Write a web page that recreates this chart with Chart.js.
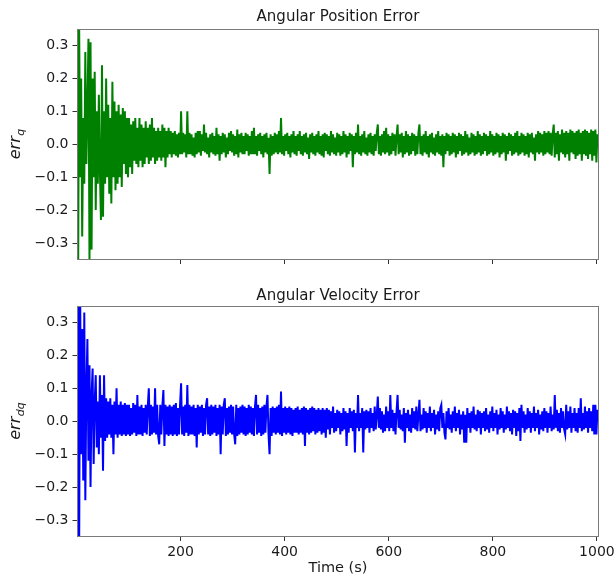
<!DOCTYPE html>
<html>
<head>
<meta charset="utf-8">
<script src="https://cdn.jsdelivr.net/npm/chart.js@4"></script>
<style>
html,body{margin:0;padding:0;background:#fff;}
#wrap{position:relative;width:614px;height:580px;}
canvas{position:absolute;left:0;}
</style>
</head>
<body>
<div id="wrap">
<canvas id="c1" width="614" height="280" style="top:0"></canvas>
<canvas id="c2" width="614" height="300" style="top:280px"></canvas>
</div>
<script>
// ---- Data ----
const timeStart = 1;      // first sample time (s)
const timeStep = 2;       // sample spacing (s)
const xTicks = [200, 400, 600, 800, 1000];
const yTicks = [-0.3, -0.2, -0.1, 0, 0.1, 0.2, 0.3];
const titles = ['Angular Position Error', 'Angular Velocity Error'];
const yLabels = [['err', 'q'], ['err', 'dq']];
const xLabel = 'Time (s)';

// Angular position error (green), one row = 20 s
const posErr = [
  .5,-.5,.4,-.1,.2,-.28,.08,-.12,.28,-.06,
  .1,.32,-.36,.31,-.32,.2,-.1,.22,-.2,.1,
  -.12,.15,-.08,-.23,.24,-.22,.1,-.12,.2,-.1,
  .12,-.15,.08,-.18,.19,-.1,.13,-.14,.1,-.12,
  .12,-.1,.09,-.13,.11,-.06,.1,-.09,.08,-.1,
  .08,-.07,.06,-.09,.07,-.05,.08,-.06,.05,-.07,
  .08,-.05,.06,-.07,.05,-.06,.07,-.04,.05,-.06,
  .06,-.05,.08,-.04,.05,-.06,.04,-.05,.05,-.04,
  .04,-.05,.06,-.04,.05,-.07,.04,-.04,.05,-.03,
  .04,-.04,.035,-.03,.04,-.035,.03,-.04,.035,-.03,
  .1,-.03,.035,-.025,.03,-.04,.1,-.03,.035,-.03,
  .03,-.035,.02,-.04,.035,-.03,.04,-.025,.04,-.035,
  .03,-.02,.06,-.025,.035,-.03,.02,-.04,.03,-.025,
  .035,-.03,.025,-.035,.05,-.03,.03,-.05,.025,-.03,
  .035,-.025,.03,-.04,.02,-.03,.035,-.02,.04,-.025,
  .03,-.035,.025,-.03,.045,-.04,.03,-.025,.035,-.03,
  .025,-.03,.035,-.02,.03,-.035,.025,-.03,.04,-.03,
  .05,-.03,.025,-.035,.03,-.02,.035,-.03,.025,-.04,
  .03,-.025,.035,-.03,.02,-.09,.03,-.035,.025,-.03,
  .035,-.025,.03,-.03,.04,-.025,.08,-.03,.025,-.035,
  .03,-.02,.035,-.03,.025,-.04,.03,-.025,.04,-.03,
  .025,-.035,.03,-.02,.04,-.03,.025,-.035,.03,-.025,
  .035,-.03,.02,-.045,.03,-.025,.035,-.03,.025,-.035,
  .03,-.025,.04,-.03,.025,-.035,.03,-.04,.035,-.02,
  .03,-.03,.025,-.035,.04,-.025,.03,-.03,.02,-.035,
  .035,-.025,.03,-.035,.025,-.03,.04,-.025,.03,-.04,
  .025,-.03,.035,-.02,.03,-.07,.025,-.03,.035,-.025,
  .06,-.03,.025,-.035,.03,-.025,.04,-.03,.02,-.035,
  .03,-.025,.035,-.03,.025,-.035,.03,-.02,.035,.06,
  -.03,.025,-.035,.03,-.025,.04,-.03,.05,-.025,.03,
  -.035,.025,-.03,.035,-.02,.03,-.035,.025,.06,-.03,
  .03,-.025,.035,-.04,.025,-.03,.04,-.025,.03,-.035,
  .025,-.03,.035,-.02,.03,-.035,.025,-.03,.035,.06,
  -.03,.025,-.035,.03,-.025,.04,-.03,.025,-.04,.03,
  -.025,.035,-.03,.02,-.035,.03,-.025,.04,-.03,.025,
  -.035,.03,-.07,.025,-.03,.035,-.02,.03,-.035,.025,
  -.03,.035,-.025,.03,-.04,.025,-.03,.035,-.02,.03,
  -.035,.025,-.03,.04,-.025,.03,-.035,.02,-.03,.035,
  -.025,.03,-.035,.025,-.03,.04,-.025,.03,-.035,.025,
  -.03,.035,-.02,.03,-.035,.025,-.03,.04,-.025,.03,
  -.035,.025,-.03,.035,-.025,.03,-.04,.025,-.03,.035,
  -.025,.03,-.05,.025,-.03,.035,-.02,.03,-.035,.025,
  -.03,.035,-.025,.04,-.035,.025,-.03,.035,-.025,.03,
  -.035,.025,-.03,.035,-.04,.03,-.025,.035,-.03,.02,
  -.05,.03,-.025,.04,-.03,.035,-.025,.03,-.035,.04,
  -.03,.035,-.025,.04,-.03,.035,-.035,.03,.06,-.04,
  .035,-.03,.04,-.05,.03,-.025,.045,-.03,.035,-.04,
  .04,-.03,.035,-.05,.045,-.025,.04,-.03,.035,-.045,
  .04,-.035,.045,-.03,.035,-.05,.04,-.03,.045,-.035,
  .04,-.045,.035,-.03,.045,-.05,.04,-.035,.045,-.055,
  .03,0
];

// Angular velocity error (blue), one row = 20 s
const velErr = [
  -.5,.5,-.45,.4,-.1,.28,-.18,.33,-.24,.1,
  .25,-.12,.17,-.2,.08,.16,-.13,.06,.14,-.08,
  .06,-.1,.14,-.05,.08,-.15,.14,-.06,.07,-.05,
  .06,-.04,.07,-.05,.05,-.1,.06,-.04,.1,-.05,
  .05,-.04,.06,-.045,.05,-.04,.055,-.045,.05,-.04,
  .05,-.045,.04,-.04,.055,-.035,.05,-.045,.08,-.04,
  .045,-.04,.05,-.045,.04,-.035,.05,-.04,.045,.1,
  -.045,.05,-.04,.045,-.035,.1,-.04,.05,-.045,-.07,
  .05,-.04,.045,.095,-.075,.05,-.04,.045,-.045,.05,
  -.04,.045,-.045,.05,-.04,.055,-.045,.04,-.04,.05,
  .115,-.04,.045,-.045,.05,-.035,.11,-.045,.05,-.04,
  .045,-.04,.05,-.045,.04,-.08,.05,-.04,.045,-.035,
  .05,-.045,.04,-.04,.05,.07,-.04,.045,-.045,.05,
  -.04,.045,-.035,.05,-.045,.04,-.04,.05,-.1,.045,
  -.04,.05,.07,-.045,.04,-.04,.045,-.035,.05,-.04,
  .045,-.04,-.07,.05,-.045,.04,-.04,.045,-.035,.05,
  -.04,.045,-.045,.04,-.04,.05,-.035,.045,-.04,.04,
  -.045,.045,.08,-.04,.05,-.035,.04,-.045,.045,-.04,
  .05,-.035,.045,.08,-.04,-.1,.04,-.045,.045,-.035,
  .04,-.04,.045,-.035,.05,-.04,.09,-.045,.04,-.035,
  .045,-.04,.04,-.035,.045,-.04,.04,-.045,.035,-.035,
  .04,-.035,.045,-.04,.035,-.035,.04,-.04,.045,-.075,
  .04,-.035,.035,-.04,.04,-.035,.045,-.03,.04,-.04,
  .035,-.035,.04,-.03,.035,-.04,.04,-.035,.035,-.05,
  .04,-.025,.035,-.04,.03,-.02,.045,-.035,.025,-.03,
  .035,-.02,.03,-.04,.025,-.03,.04,-.025,.03,-.075,
  .025,-.035,.04,-.02,.03,-.03,.035,-.095,.025,-.02,
  .08,-.03,.025,-.02,.04,-.095,.03,-.025,.035,-.02,
  .03,-.035,.04,-.02,.025,-.03,.045,-.025,.02,.075,
  -.02,.04,-.025,.03,-.035,.02,-.03,.045,-.02,.03,
  -.03,.08,-.02,.035,-.03,.025,-.04,.03,.08,-.02,
  .035,-.025,.02,-.03,.04,-.065,.025,-.02,.035,-.03,
  .02,-.035,.04,-.02,.03,-.025,.045,-.03,.02,.065,
  -.03,.02,-.025,.04,-.02,.03,-.035,.025,-.02,.045,
  -.03,.025,-.02,.035,-.04,.02,-.025,.03,-.03,.04,
  .05,-.02,.025,-.035,-.055,.03,-.02,.04,-.025,.02,
  -.035,.03,-.02,.045,-.03,.025,-.02,.035,-.04,.02,
  -.025,.03,-.065,.02,-.065,.04,-.02,.025,-.035,.03,
  -.02,.045,-.025,.02,-.03,.035,-.02,.03,-.04,.025,
  -.02,.03,-.03,.04,-.025,.02,-.035,.03,-.02,.045,
  -.03,.025,-.02,.035,-.04,.02,-.025,.04,-.02,.03,
  -.035,.02,-.025,.045,-.02,.03,-.03,.025,-.04,.035,
  -.02,.03,-.045,.025,-.03,.04,-.06,.05,-.02,.03,
  -.035,.02,-.025,.04,-.02,.03,-.035,.025,-.02,.045,
  -.03,.025,-.02,.035,-.04,.02,-.025,.03,-.03,.04,
  -.02,.03,-.035,.025,-.02,.045,-.03,.02,-.025,.08,
  -.02,.035,-.03,.025,-.035,.04,-.02,.03,-.025,-.04,
  .05,-.025,.03,-.02,.045,-.035,.025,-.02,.04,-.03,
  .025,-.035,.04,-.02,.07,-.03,.025,-.025,.045,-.02,
  .03,-.035,.04,-.02,.03,-.03,.05,-.04,.05,-.04,
  .035,0
];

// sample times of the recorded signal
const time = posErr.map((_, i) => timeStart + i * timeStep);

Chart.defaults.font.family = '"DejaVu Sans", sans-serif';
Chart.defaults.color = '#1a1a1a';

const fmtY = v => {
  const s = Math.abs(v).toFixed(1);
  return v < -1e-9 ? '\u2212' + s : s;
};

const framePlugin = {
  id: 'frameAndLabel',
  afterDatasetsDraw(chart, args, opts) {
    const ctx = chart.ctx, a = chart.chartArea;
    ctx.save();
    ctx.strokeStyle = '#7a7a7a';
    ctx.lineWidth = 1;
    const l = Math.round(a.left) + 0.5, t = Math.round(a.top) + 0.5;
    const r = Math.round(a.right) - 0.5, b = Math.round(a.bottom) - 0.5;
    ctx.strokeRect(l, t, r - l, b - t);
    // y-axis label with subscript
    const [main, sub] = opts.label;
    ctx.translate(20, (a.top + a.bottom) / 2);
    ctx.rotate(-Math.PI / 2);
    ctx.fillStyle = '#1a1a1a';
    ctx.textBaseline = 'alphabetic';
    ctx.textAlign = 'left';
    ctx.font = 'italic 16px "DejaVu Sans"';
    const mw = ctx.measureText(main).width;
    ctx.font = 'italic 11px "DejaVu Sans"';
    const sw = ctx.measureText(sub).width;
    const x0 = -(mw + sw) / 2;
    ctx.font = 'italic 16px "DejaVu Sans"';
    ctx.fillText(main, x0, 0);
    ctx.font = 'italic 11px "DejaVu Sans"';
    ctx.fillText(sub, x0 + mw + 0.5, 3.5);
    ctx.restore();
  }
};

function makeChart(id, values, color, idx, showX, xAxisH, titlePad) {
  const pts = time.map((t, i) => ({ x: t, y: values[i] }));
  return new Chart(document.getElementById(id), {
    type: 'line',
    data: { datasets: [{
      data: pts, borderColor: color, borderWidth: 2,
      pointRadius: 0, tension: 0, fill: false, clip: 0
    }]},
    plugins: [framePlugin],
    options: {
      responsive: false, animation: false, devicePixelRatio: 1,
      layout: { padding: { left: 0, right: 15, top: 0, bottom: 0 } },
      plugins: {
        legend: { display: false }, tooltip: { enabled: false },
        title: { display: true, fullSize: false, text: titles[idx], color: '#1a1a1a',
                 font: { size: 15, weight: 'normal' }, padding: titlePad },
        frameAndLabel: { label: yLabels[idx] }
      },
      scales: {
        x: {
          type: 'linear', min: 1, max: 1004,
          afterBuildTicks: s => { s.ticks = xTicks.map(v => ({ value: v })); },
          afterFit: s => { s.height = xAxisH; s.paddingLeft = 0; s.paddingRight = 0; },
          ticks: { autoSkip: false, maxRotation: 0, padding: 3, font: { size: 14 },
                   callback: v => showX ? String(v) : '' },
          grid: { drawOnChartArea: false, drawTicks: true, tickLength: 4.5, tickColor: '#333', lineWidth: 1 },
          border: { display: false },
          title: { display: showX, text: xLabel, font: { size: 14.5 }, padding: { top: 0, bottom: 3 } }
        },
        y: {
          type: 'linear', min: -0.35, max: 0.35,
          afterBuildTicks: s => { s.ticks = yTicks.map(v => ({ value: v })); },
          afterFit: s => { s.width = 77; s.paddingTop = 0; s.paddingBottom = 0; },
          ticks: { padding: 4, font: { size: 14 }, callback: v => fmtY(v) },
          grid: { drawOnChartArea: false, drawTicks: true, tickLength: 4.5, tickColor: '#333', lineWidth: 1 },
          border: { display: false }
        }
      }
    }
  });
}

makeChart('c1', posErr, '#008000', 0, false, 20.5, { top: 8.5, bottom: 2.5 });
makeChart('c2', velErr, '#0000ff', 1, true, 43.5, { top: 7, bottom: 1 });
</script>
</body>
</html>
